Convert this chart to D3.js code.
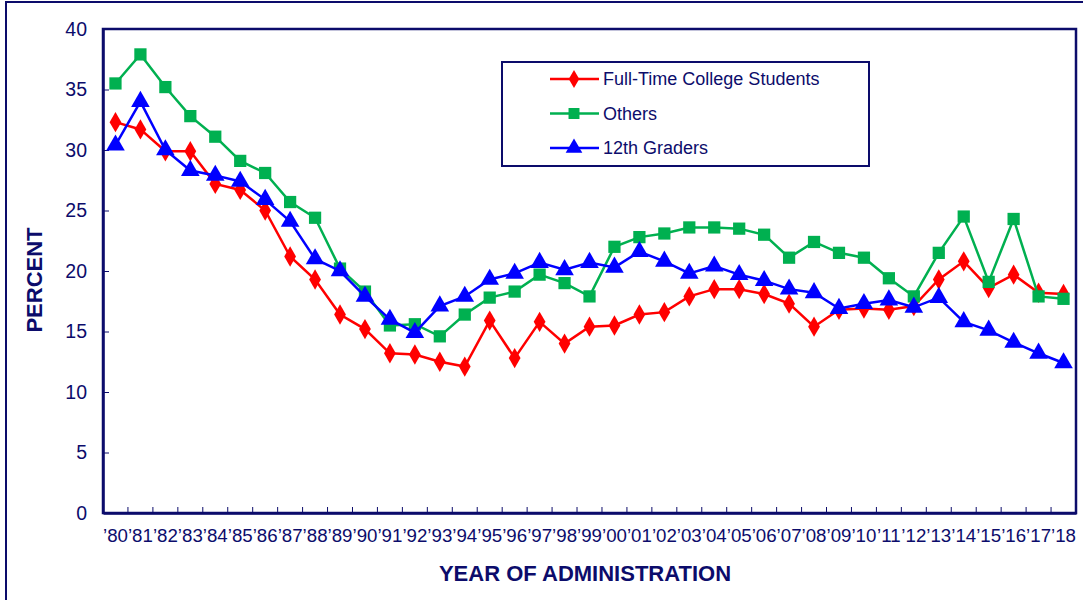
<!DOCTYPE html>
<html><head><meta charset="utf-8">
<script src="https://cdn.jsdelivr.net/npm/d3@7"></script>
<style>body{margin:0;background:#fff;}svg{display:block;font-family:"Liberation Sans",Arial,sans-serif;}</style>
</head><body><svg id="c" width="1083" height="600"></svg>
<script>
const years = d3.range(1980, 2019).map(y => "\u2019" + String(y).slice(2));
const yTicks = [0,5,10,15,20,25,30,35,40];
const seriesNames = ["Full-Time College Students", "Others", "12th Graders"];
const college = [32.3,31.7,29.9,29.9,27.2,26.7,25.0,21.2,19.3,16.4,15.2,13.2,13.1,12.5,12.1,15.9,12.8,15.8,14.0,15.4,15.5,16.4,16.6,17.9,18.5,18.5,18.1,17.3,15.4,16.8,16.9,16.8,17.1,19.3,20.8,18.6,19.7,18.2,18.1];
const others = [35.5,37.9,35.2,32.8,31.1,29.1,28.1,25.7,24.4,20.2,18.3,15.5,15.6,14.6,16.4,17.8,18.3,19.7,19.0,17.9,22.0,22.8,23.1,23.6,23.6,23.5,23.0,21.1,22.4,21.5,21.1,19.4,17.9,21.5,24.5,19.1,24.3,17.9,17.7];
const grade12 = [30.4,34.0,30.0,28.3,27.9,27.4,25.9,24.1,21.0,20.0,17.9,16.0,14.9,17.1,17.9,19.3,19.8,20.7,20.1,20.7,20.3,21.6,20.8,19.8,20.4,19.7,19.2,18.5,18.2,16.9,17.3,17.6,17.0,17.8,15.8,15.1,14.1,13.2,12.4];

const navy = "#0c0c6b";
const colors = ["#ff0000", "#00b050", "#0000ff"];
const shapes = [d3.symbolDiamond, d3.symbolSquare, d3.symbolTriangle];
const sizes = [120, 150, 150];
const data = [college, others, grade12];

const svg = d3.select("#c");
// outer frame
svg.append("rect").attr("x",6).attr("y",2).attr("width",1100).attr("height",620)
  .attr("fill","none").attr("stroke",navy).attr("stroke-width",2);

const L=103, T=29, R=1076, B=513;
const x = d3.scaleBand().domain(years).range([L,R]);
const y = d3.scaleLinear().domain([0,40]).range([B,T]);

// plot frame (top/right)
svg.append("rect").attr("x",L).attr("y",T).attr("width",R-L).attr("height",B-T)
  .attr("fill","none").attr("stroke",navy).attr("stroke-width",2.5);

// y axis
const ya = svg.append("g").attr("transform",`translate(${L},0)`)
  .call(d3.axisLeft(y).tickValues(yTicks).tickSizeInner(-6).tickSizeOuter(0).tickPadding(16));
ya.select(".domain").attr("stroke",navy).attr("stroke-width",2.5);
ya.selectAll(".tick line").attr("stroke",navy).attr("stroke-width",1);
ya.selectAll("text").attr("fill",navy).attr("font-size",19.5).attr("font-family","Liberation Sans, Arial, sans-serif");

// x axis
const xa = svg.append("g").attr("transform",`translate(0,${B})`)
  .call(d3.axisBottom(x).tickSize(0).tickPadding(16));
xa.select(".domain").attr("stroke",navy).attr("stroke-width",2.5);
xa.selectAll("text").attr("fill",navy).attr("font-size",18.7).attr("font-family","Liberation Sans, Arial, sans-serif");
// x ticks between categories
svg.append("g").selectAll("line").data(years.slice(1)).join("line")
  .attr("x1",d=>x(d)).attr("x2",d=>x(d)).attr("y1",B).attr("y2",B-6)
  .attr("stroke",navy).attr("stroke-width",1);

const cx = d => x(d) + x.bandwidth()/2;
const line = d3.line().x((v,i)=>cx(years[i])).y(v=>y(v));

data.forEach((vals,k)=>{
  const g = svg.append("g");
  g.append("path").datum(vals).attr("d",line).attr("fill","none")
    .attr("stroke",colors[k]).attr("stroke-width",2.5);
  g.selectAll("path.m").data(vals).join("path").attr("class","m")
    .attr("d", d3.symbol().type(shapes[k]).size(sizes[k]))
    .attr("transform",(v,i)=>`translate(${cx(years[i])},${y(v)})`)
    .attr("fill",colors[k]);
});

// legend
const lg = svg.append("g");
lg.append("rect").attr("x",502).attr("y",62).attr("width",367).attr("height",104)
  .attr("fill","#fff").attr("stroke",navy).attr("stroke-width",2);
seriesNames.forEach((n,k)=>{
  const yy = 79 + k*34.5;
  lg.append("line").attr("x1",550).attr("x2",599).attr("y1",yy).attr("y2",yy)
    .attr("stroke",colors[k]).attr("stroke-width",2.5);
  lg.append("path").attr("d",d3.symbol().type(shapes[k]).size(sizes[k]*0.8))
    .attr("transform",`translate(574,${yy})`).attr("fill",colors[k]);
  lg.append("text").attr("x",603).attr("y",yy).attr("dy","0.35em")
    .attr("fill",navy).attr("font-size",18).text(n);
});

// axis titles
svg.append("text").attr("x",585).attr("y",581).attr("text-anchor","middle")
  .attr("fill",navy).attr("font-weight","bold").attr("font-size",22).text("YEAR OF ADMINISTRATION");
svg.append("text").attr("transform","translate(42,280) rotate(-90)").attr("text-anchor","middle")
  .attr("fill",navy).attr("font-weight","bold").attr("font-size",22).text("PERCENT");
</script></body></html>
